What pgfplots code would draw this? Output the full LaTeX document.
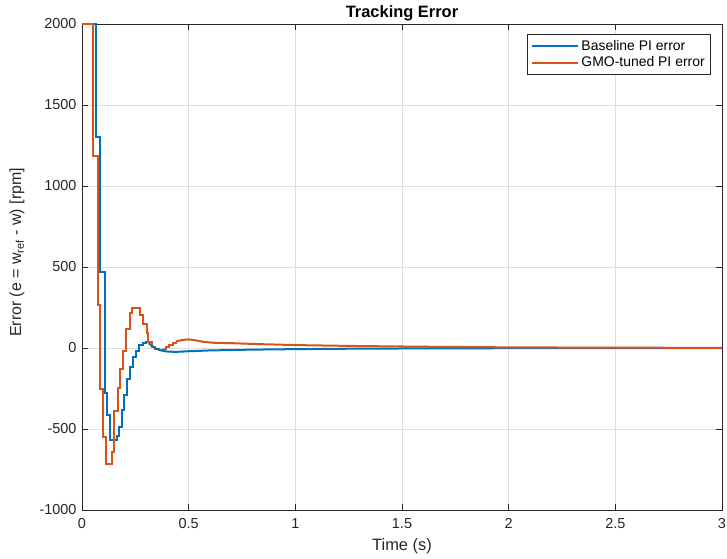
\documentclass[border=0pt]{standalone}
\usepackage{fontspec}
\setmainfont{Liberation Sans}
\usepackage{pgfplots}
\pgfplotsset{compat=1.18}
\definecolor{mblue}{rgb}{0,0.447,0.741}
\definecolor{morange}{rgb}{0.85,0.325,0.098}
\definecolor{axgray}{rgb}{0.15,0.15,0.15}
\begin{document}
\begin{tikzpicture}
\begin{axis}[
  at={(0,0)}, anchor=south west,
  scale only axis, width=640bp, height=486bp,
  xmin=0, xmax=3, ymin=-1000, ymax=2000,
  clip=false,
  xtick={0,0.5,1,1.5,2,2.5,3}, xticklabels={0,0.5,1,1.5,2,2.5,3},
  ytick={-1000,-500,0,500,1000,1500,2000},
  yticklabels={-1000,-500,0,500,1000,1500,2000},
  tick align=inside, major tick length=6.4bp,
  grid=major, major grid style={color=black!13, line width=0.5bp},
  axis line style={color=axgray, line width=0.6bp},
  tick style={color=axgray, line width=0.6bp},
  ticklabel style={font=\fontsize{14.5}{16}\selectfont, color=axgray},
  xticklabel style={yshift=-5bp},
  yticklabel style={xshift=-2bp},
  title={Tracking Error},
  title style={font=\bfseries\fontsize{16.5}{19}\selectfont, at={(axis description cs:0.5,1.002)}, anchor=base},
  xlabel={Time (s)},
  xlabel style={font=\fontsize{16.5}{19}\selectfont, color=axgray, at={(axis description cs:0.5,-0.0823)}, anchor=base},
  ylabel={Error (e = w\textsubscript{ref} - w) [rpm]},
  ylabel style={font=\fontsize{16}{19}\selectfont, color=axgray, at={(axis description cs:-0.095,0.53)}, anchor=base},
  legend style={at={(axis description cs:1,1)}, anchor=north east, xshift=-11bp, yshift=-10bp,
    draw=axgray, line width=0.6bp, font=\fontsize{14}{16}\selectfont, cells={anchor=west},
    inner xsep=4bp, inner ysep=4bp, row sep=1bp},
  legend image code/.code={\draw[#1] (0bp,0bp) -- (46bp,0bp);},
]
\addplot[const plot, color=mblue, line width=2bp] coordinates {
(0,2000)(0.067,1300)(0.086,470)(0.108,-278)(0.119,-413)(0.131,-565)(0.163,-545)(0.173,-485)(0.186,-383)(0.197,-290)(0.212,-193)(0.225,-118)(0.240,-57)(0.253,-16)(0.269,18)(0.285,33)(0.300,35)(0.312,30)
};
\addlegendentry{Baseline PI error}
\addplot[const plot, color=morange, line width=2bp] coordinates {
(0,2000)(0.053,1185)(0.073,265)(0.084,-255)(0.100,-547)(0.1125,-716)(0.139,-640)(0.148,-390)(0.168,-250)(0.180,-130)(0.190,-20)(0.205,115)(0.225,214)(0.236,245)(0.272,204)(0.287,150)(0.303,90)(0.311,40)(0.326,8)(0.342,-8)(0.36,-15)(0.385,-8)(0.395,8)(0.41,20)(0.425,30)(0.44,40)
};
\addlegendentry{GMO-tuned PI error}
\addplot[forget plot, color=mblue, line width=2bp] coordinates {
(0.312,30)(0.322,20)(0.333,8)(0.35,-5)(0.37,-15)(0.40,-22)(0.44,-24)(0.5,-20)(0.6,-15)(0.8,-10)(1.0,-7)(1.3,-4)(1.7,-2)(2.2,-1)(3,0)
};
\addplot[forget plot, color=morange, line width=2bp] coordinates {
(0.44,40)(0.47,50)(0.50,53)(0.53,48)(0.57,38)(0.62,32)(0.7,30)(0.8,25)(1.0,18)(1.3,12)(1.6,8)(2.0,4)(2.5,2)(3,1)
};
\end{axis}
\pgfresetboundingbox
\path[use as bounding box] (-82bp,-49bp) rectangle (645bp,510bp);
\end{tikzpicture}
\end{document}
